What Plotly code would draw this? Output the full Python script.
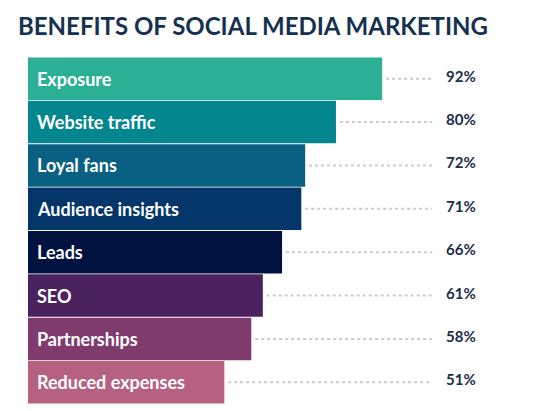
import plotly.graph_objects as go

categories = ["Exposure", "Website traffic", "Loyal fans", "Audience insights",
              "Leads", "SEO", "Partnerships", "Reduced expenses"]
values = [92, 80, 72, 71, 66, 61, 58, 51]
colors = ["#2BAF95", "#04868F", "#0A6083", "#04366A", "#021342",
          "#4A235E", "#7F3B6E", "#B5617F"]
value_labels = [f"{v}%" for v in values]

fig = go.Figure(go.Bar(
    y=categories, x=values, orientation="h",
    marker=dict(color=colors, line=dict(width=0)),
    hoverinfo="skip",
))

for c, v, lab in zip(categories, values, value_labels):
    fig.add_shape(type="line", x0=v + 1, x1=105, y0=c, y1=c, yref="y", xref="x",
                  line=dict(color="#C8CCD0", width=2, dash="dot"))
    fig.add_annotation(x=117, y=c, text=f"<b>{lab}</b>", showarrow=False,
                       xanchor="right", yshift=3,
                       font=dict(family="Lato", size=15, color="#1B2E48"))
    fig.add_annotation(x=0, y=c, text=f"<b>{c}</b>", showarrow=False,
                       xanchor="left", xshift=7,
                       font=dict(family="Lato", size=18, color="white"))

fig.update_layout(
    width=537, height=403,
    margin=dict(l=20, r=0, t=49, b=7),
    paper_bgcolor="white", plot_bgcolor="white",
    bargap=0.02,
    showlegend=False,
    title=dict(text="<b>BENEFITS OF SOCIAL MEDIA MARKETING</b>", x=10/537, xanchor="left",
               y=0.953, yanchor="middle",
               font=dict(family="Lato", size=24, color="#163150")),
    xaxis=dict(range=[0, 134.3], visible=False, fixedrange=True),
    yaxis=dict(autorange="reversed", visible=False, fixedrange=True),
)

fig.write_html("out.html")
